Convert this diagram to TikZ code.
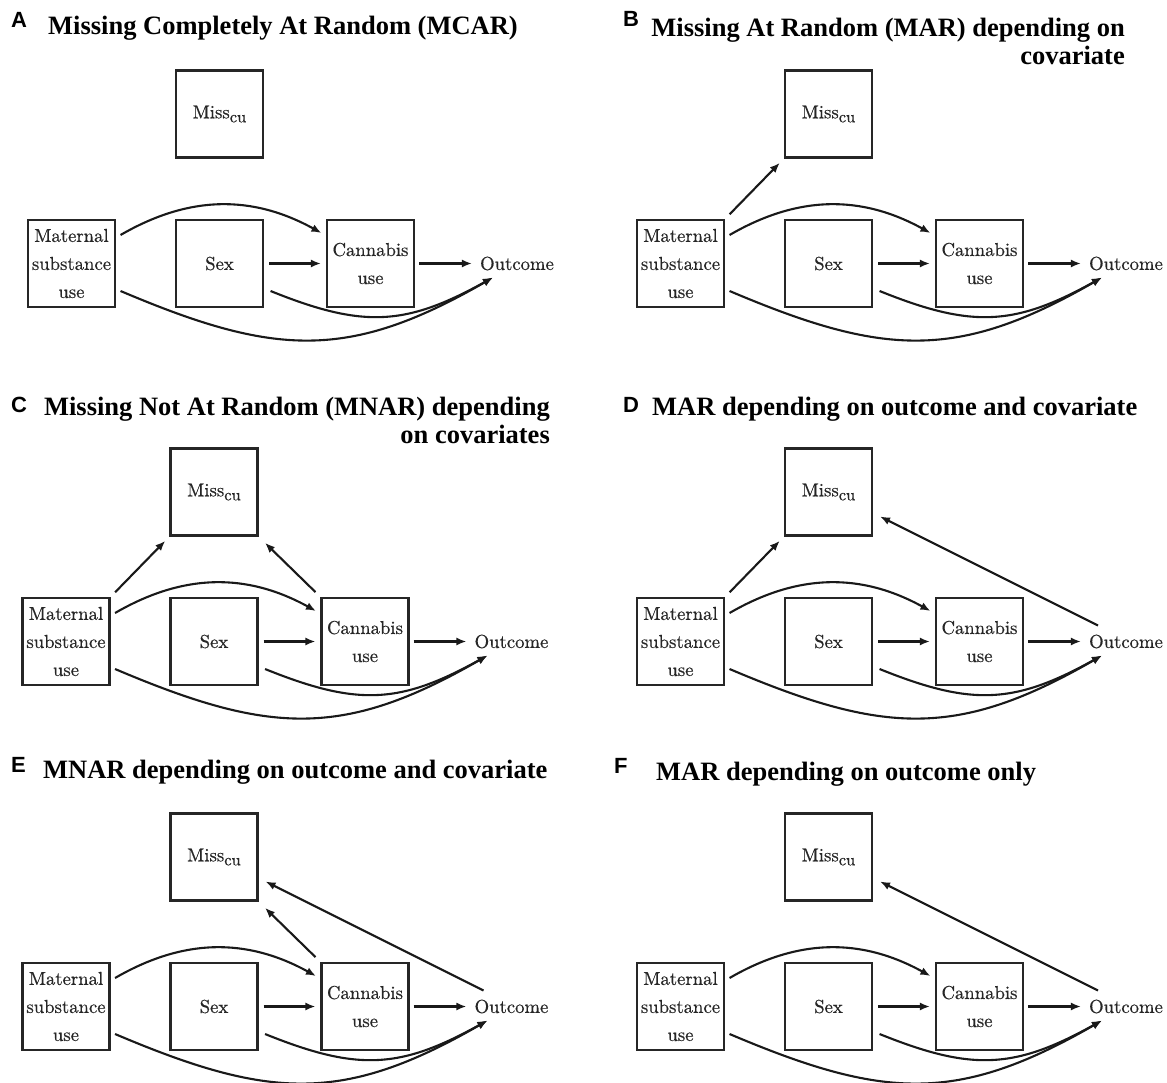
\documentclass[tikz,border=0pt]{standalone}
\usepackage{fontspec}
\newfontfamily\titlefont{Liberation Serif}
\newfontfamily\letterfont{Liberation Sans}
\newfontfamily\boxfont{lmroman10-regular}[Extension=.otf, FakeBold=0.5]
\usetikzlibrary{arrows.meta,calc}
\tikzset{
  vbox/.style={draw=black!85, line width=2.1pt, minimum width=87pt, minimum height=87pt,
    inner sep=0pt, align=center, text=black!85, font=\boxfont\fontsize{18.7}{28}\selectfont},
  vtext/.style={inner sep=0pt, text=black!85, font=\boxfont\fontsize{18.7}{28}\selectfont},
  arr/.style={line width=2.1pt, draw=black!90, -{Latex[length=10pt,width=8pt]}},
  ttl/.style={inner sep=0pt, font=\titlefont\bfseries\fontsize{26.5}{28}\selectfont},
  lett/.style={inner sep=0pt, font=\letterfont\bfseries\fontsize{22}{24}\selectfont},
}
\newcommand\drawpanel[3]{%
  \begin{scope}[shift={(#2,-#3)}]
    \node[vbox] (#1mat) at (0,0) {Maternal\\substance\\use};
    \node[vbox] (#1sex) at (148,0) {Sex};
    \node[vbox] (#1can) at (299,0) {Cannabis\\use};
    \node[vbox] (#1miss) at (148,149.5) {Miss\raisebox{-4pt}{\fontsize{16.5}{17}\selectfont cu}};
    \node[vtext] (#1out) at (445.5,0) {Outcome};
    \draw[arr] ([xshift=5pt]#1sex.east) -- ([xshift=-5pt]#1can.west);
    \draw[arr] ([xshift=4pt]#1can.east) -- ([xshift=-8pt]#1out.west);
    \draw[arr] ([shift={(4.5,28.5)}]#1mat.east) .. controls +(69,40) and +(-69,38) .. ([shift={(-4.5,30.5)}]#1can.west);
    \draw[arr] ([shift={(6.5,-27.5)}]#1sex.east) .. controls +(-22:100) and +(209:100) .. ([shift={(-24,-14)}]#1out.center);
    \draw[arr] ([shift={(4.5,-27.5)}]#1mat.east) .. controls +(-23:167) and +(210:167) .. ([shift={(-24,-14)}]#1out.center);
  \end{scope}}
\begin{document}
\begin{tikzpicture}[x=1pt,y=1pt]
  \fill[white] (0,0) rectangle (1167,-1083);
  \useasboundingbox (0,0) rectangle (1167,-1083);

  % titles
  \node[lett, anchor=base west] (la) at (11,-28) {A};
  \node[ttl, anchor=base west] (ta) at (48,-35) {Missing Completely At Random (MCAR)};
  \node[lett, anchor=base west] (lb) at (623,-27) {B};
  \node[ttl, anchor=base east] (tb1) at (1125,-37) {Missing At Random (MAR) depending on};
  \node[ttl, anchor=base east] (tb2) at (1125,-65) {covariate};
  \node[lett, anchor=base west] (lc) at (11,-412) {C};
  \node[ttl, anchor=base east] (tc1) at (550,-415) {Missing Not At Random (MNAR) depending};
  \node[ttl, anchor=base east] (tc2) at (550,-443) {on covariates};
  \node[lett, anchor=base west] (ld) at (623,-412) {D};
  \node[ttl, anchor=base west] (td) at (652,-415) {MAR depending on outcome and covariate};
  \node[lett, anchor=base west] (le) at (11,-772) {E};
  \node[ttl, anchor=base west] (te) at (43,-778) {MNAR depending on outcome and covariate};
  \node[lett, anchor=base west] (lf) at (614,-773) {F};
  \node[ttl, anchor=base west] (tf) at (656,-780) {MAR depending on outcome only};

  % panels
  \drawpanel{a}{71.5}{263.5}
  \drawpanel{b}{680.5}{263.5}
  \drawpanel{c}{66}{641.5}
  \drawpanel{d}{680.5}{641.5}
  \drawpanel{e}{66}{1006.5}
  \drawpanel{f}{680.5}{1006.5}

  % missingness arrows
  \draw[arr, shorten <=6.5pt, shorten >=6pt] (bmat.north east) -- (bmiss.south west);
  \draw[arr, shorten <=6.5pt, shorten >=6pt] (cmat.north east) -- (cmiss.south west);
  \draw[arr, shorten <=7pt, shorten >=9pt] (ccan.north west) -- (cmiss.south east);
  \draw[arr, shorten <=6.5pt, shorten >=6pt] (dmat.north east) -- (dmiss.south west);
  \draw[arr] ([shift={(-28,16)}]dout.center) -- ([shift={(7,-24.5)}]dmiss.east);
  \draw[arr, shorten <=7pt, shorten >=9pt] (ecan.north west) -- (emiss.south east);
  \draw[arr] ([shift={(-28,16)}]eout.center) -- ([shift={(7,-24.5)}]emiss.east);
  \draw[arr] ([shift={(-28,16)}]fout.center) -- ([shift={(7,-24.5)}]fmiss.east);
\end{tikzpicture}
\end{document}
